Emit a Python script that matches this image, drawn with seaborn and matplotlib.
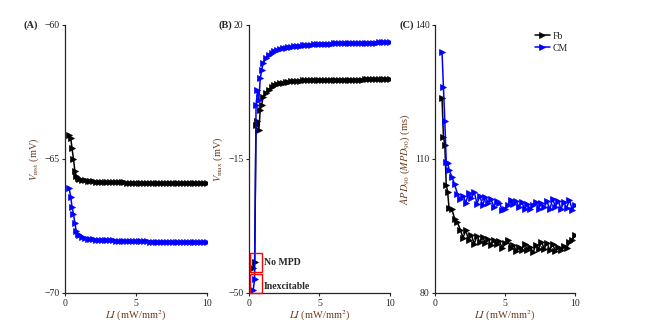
import numpy as np
import pandas as pd
import seaborn as sns
import matplotlib.pyplot as plt
from matplotlib.patches import Rectangle

# light intensity grid (mW/mm^2) used in panels A and B
li = [0.3, 0.4, 0.5, 0.6, 0.7, 0.8, 0.9, 1.0,
      1.2, 1.4, 1.6, 1.8, 2.0, 2.2, 2.4, 2.6, 2.8, 3.0,
      3.2, 3.4, 3.6, 3.8, 4.0, 4.2, 4.4, 4.6, 4.8, 5.0,
      5.2, 5.4, 5.6, 5.8, 6.0, 6.2, 6.4, 6.6, 6.8, 7.0,
      7.2, 7.4, 7.6, 7.8, 8.0, 8.2, 8.4, 8.6, 8.8, 9.0,
      9.2, 9.4, 9.6, 9.8, 10.0]

# (A) resting potential
fb_rest = [-64.1, -64.2, -64.6, -65.0, -65.45, -65.65, -65.72, -65.75,
           -65.78, -65.8, -65.81, -65.82, -65.83, -65.84, -65.84, -65.85, -65.85, -65.86,
           -65.86, -65.86, -65.87, -65.87, -65.87, -65.87, -65.88, -65.88, -65.88, -65.88,
           -65.88, -65.88, -65.89, -65.89, -65.89, -65.89, -65.89, -65.89, -65.89, -65.9,
           -65.9, -65.9, -65.9, -65.9, -65.9, -65.9, -65.9, -65.9, -65.9, -65.9,
           -65.9, -65.9, -65.91, -65.91, -65.91]
cm_rest = [-66.1, -66.4, -66.8, -67.05, -67.4, -67.7, -67.8, -67.85,
           -67.92, -67.95, -67.97, -67.99, -68.0, -68.01, -68.02, -68.02, -68.03, -68.03,
           -68.04, -68.04, -68.05, -68.05, -68.05, -68.06, -68.06, -68.06, -68.06, -68.07,
           -68.07, -68.07, -68.07, -68.07, -68.08, -68.08, -68.08, -68.08, -68.08, -68.08,
           -68.08, -68.08, -68.09, -68.09, -68.09, -68.09, -68.09, -68.09, -68.09, -68.09,
           -68.09, -68.09, -68.09, -68.09, -68.09]

# (B) peak potential
fb_max = [-43.5, -42.0, -6.1, -5.0, -7.4, -2.2, -0.9, 1.3,
          2.3, 3.1, 3.7, 4.2, 4.6, 4.8, 4.95, 5.05, 5.15, 5.25,
          5.3, 5.4, 5.45, 5.5, 5.55, 5.57, 5.59, 5.61, 5.62, 5.64,
          5.65, 5.66, 5.67, 5.68, 5.69, 5.7, 5.71, 5.72, 5.72, 5.73,
          5.74, 5.74, 5.75, 5.76, 5.76, 5.77, 5.77, 5.78, 5.78, 5.79,
          5.79, 5.8, 5.8, 5.81, 5.81]
cm_max = [-49.2, -46.4, -0.9, 3.0, 0.5, 6.1, 8.2, 10.0,
          11.3, 12.2, 12.8, 13.2, 13.5, 13.7, 13.9, 14.05, 14.2, 14.3,
          14.4, 14.5, 14.6, 14.7, 14.8, 14.85, 14.9, 14.95, 15.0, 15.05,
          15.08, 15.1, 15.13, 15.15, 15.18, 15.2, 15.22, 15.24, 15.26, 15.28,
          15.3, 15.32, 15.33, 15.35, 15.36, 15.38, 15.39, 15.4, 15.41, 15.42,
          15.43, 15.44, 15.45, 15.46, 15.47]

# (C) APD90 / MPD90
li_c = [0.5, 0.6, 0.7, 0.8, 0.9, 1.0,
        1.2, 1.4, 1.6, 1.8, 2.0, 2.2, 2.4, 2.6, 2.8, 3.0,
        3.2, 3.4, 3.6, 3.8, 4.0, 4.2, 4.4, 4.6, 4.8, 5.0,
        5.2, 5.4, 5.6, 5.8, 6.0, 6.2, 6.4, 6.6, 6.8, 7.0,
        7.2, 7.4, 7.6, 7.8, 8.0, 8.2, 8.4, 8.6, 8.8, 9.0,
        9.2, 9.4, 9.6, 9.8, 10.0]
fb_apd = [123.6, 115.0, 113.2, 104.2, 102.7, 99.0,
          98.8, 96.6, 95.8, 94.2, 92.4, 94.0, 91.8, 93.0, 91.0, 92.8,
          91.4, 92.6, 91.2, 92.0, 90.8, 91.8, 91.0, 91.6, 90.0, 91.1,
          91.9, 90.0, 90.8, 89.4, 90.4, 89.7, 91.0, 89.6, 90.3, 89.1,
          90.7, 89.8, 91.5, 89.9, 91.2, 89.6, 91.0, 89.3, 90.4, 89.7,
          90.5, 90.0, 91.4, 91.9, 93.0]
cm_apd = [134.0, 126.1, 118.4, 109.4, 109.2, 107.6,
          106.0, 104.3, 102.2, 101.0, 101.8, 100.2, 102.4, 101.2, 102.6, 100.0,
          101.8, 99.6, 101.5, 100.2, 101.0, 99.3, 100.6, 100.2, 98.6, 98.9,
          99.6, 100.8, 99.9, 100.5, 99.3, 100.3, 98.8, 99.9, 98.7, 99.6,
          100.4, 98.9, 100.1, 99.2, 100.5, 98.7, 101.1, 99.3, 100.6, 98.8,
          100.4, 99.0, 100.9, 98.6, 99.8]

# red boxes marking the sub-threshold points in (B)
box_x, box_w, box_h = 0.07, 0.83, 4.8
box_no_mpd_y = -44.4
box_inexc_y = -49.9

sns.set_style('ticks')
plt.rcParams['font.family'] = ['Liberation Serif', 'DejaVu Serif']
plt.rcParams['mathtext.fontset'] = 'stix'
plt.rcParams['xtick.direction'] = 'out'
plt.rcParams['ytick.direction'] = 'out'

lab_col = '#6e3a1c'
fig = plt.figure(figsize=(6.53, 3.27), dpi=100)
axA = fig.add_axes([0.0995, 0.104, 0.217, 0.8196])
axB = fig.add_axes([0.3813, 0.104, 0.2159, 0.8196])
axC = fig.add_axes([0.6662, 0.104, 0.2144, 0.8196])

kw = dict(marker='>', markersize=3.8, linewidth=1.1, markeredgewidth=0.5)

sns.lineplot(x=li, y=fb_rest, ax=axA, color='black', markeredgecolor='black', **kw)
sns.lineplot(x=li, y=cm_rest, ax=axA, color='blue', markeredgecolor='blue', **kw)
sns.lineplot(x=li, y=fb_max, ax=axB, color='black', markeredgecolor='black', **kw)
sns.lineplot(x=li, y=cm_max, ax=axB, color='blue', markeredgecolor='blue', **kw)
sns.lineplot(x=li_c, y=fb_apd, ax=axC, color='black', markeredgecolor='black', label='Fb', **kw)
sns.lineplot(x=li_c, y=cm_apd, ax=axC, color='blue', markeredgecolor='blue', label='CM', **kw)

limits = [(-70, -60), (-50, 20), (80, 140)]
ylabels = [r'$V_{\mathrm{rest}}$ (mV)', r'$V_{\mathrm{max}}$ (mV)',
           r'$APD_{90}$ ($MPD_{90}$) (ms)']
tag_x = [-0.24, -0.17, -0.2]
for ax, (lo, hi), yl, tag, tx in zip([axA, axB, axC], limits, ylabels, ['(A)', '(B)', '(C)'], tag_x):
    ax.set_xlim(0, 10)
    ax.set_ylim(lo, hi)
    ax.set_xticks([0, 5, 10])
    ax.set_yticks([lo, (lo + hi) / 2, hi])
    ax.set_yticklabels([f'{lo:g}'.replace('-', '\u2212'), f'{(lo + hi) / 2:g}'.replace('-', '\u2212'),
                        f'{hi:g}'.replace('-', '\u2212')])
    ax.tick_params(labelsize=7, length=2.5, width=0.8, pad=1.5)
    ax.set_xlabel(r'$LI$ (mW/mm$^2$)', fontsize=7.5, color=lab_col, labelpad=1)
    ax.set_ylabel(yl, fontsize=7.5, color=lab_col, labelpad=2)
    for s in ['left', 'bottom']:
        ax.spines[s].set_linewidth(0.9)
    sns.despine(ax=ax)
    ax.text(tx, 1.0, tag, transform=ax.transAxes, fontsize=7.5,
            fontweight='bold', ha='center', va='center')

for y0 in [box_no_mpd_y, box_inexc_y]:
    axB.add_patch(Rectangle((box_x, y0), box_w, box_h, fill=False,
                            edgecolor='red', linewidth=1, clip_on=False, zorder=5))
axB.text(1.05, -42.1, 'No MPD', fontsize=7, fontweight='bold', va='center')
axB.text(1.05, -48.4, 'Inexcitable', fontsize=7, fontweight='bold', va='center')

axC.legend(loc='upper right', frameon=False, fontsize=7, handlelength=1.6,
           handletextpad=0.3, labelspacing=0.3, borderaxespad=0.3)

fig.savefig('out.png', dpi=100)
